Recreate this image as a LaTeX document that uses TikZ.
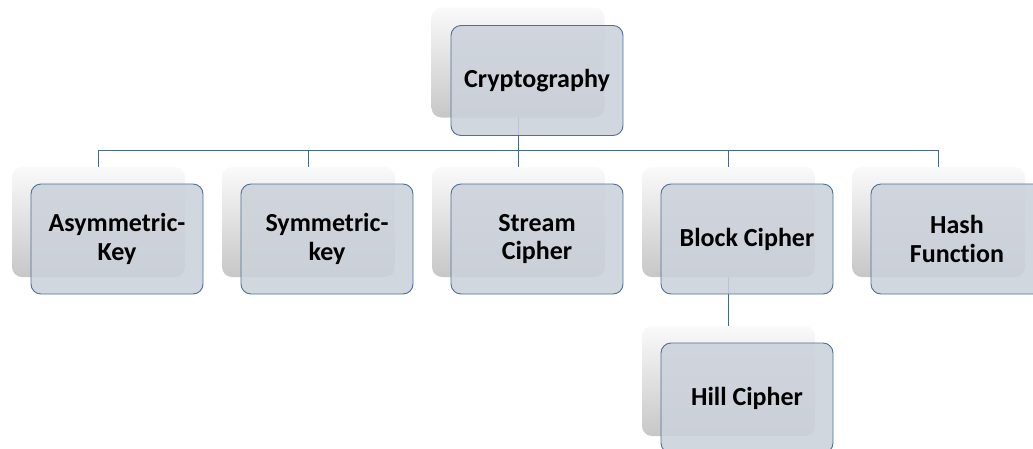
\documentclass[tikz,border=0pt]{standalone}
\usepackage{fontspec}
\setmainfont{Carlito}[Ligatures={NoCommon,NoRare,NoContextual}]
\usetikzlibrary{calc}
\definecolor{frontfill}{RGB}{203,209,219}
\definecolor{frontedge}{RGB}{79,110,152}
\definecolor{linecol}{RGB}{72,102,145}
\tikzset{
  backbox/.style={rounded corners=10pt, minimum width=173pt, minimum height=110pt, inner sep=0pt,
    top color=white!98!black, bottom color=black!22, draw=none},
  frontbox/.style={rounded corners=10pt, minimum width=172pt, minimum height=110pt, inner sep=0pt,
    fill=frontfill, fill opacity=0.88, text opacity=1, draw=frontedge, line width=0.9pt,
    align=center, font=\bfseries\fontsize{26}{28.5}\selectfont},
  conn/.style={draw=linecol, line width=0.9pt}
}
\begin{document}
\begin{tikzpicture}[x=1pt,y=-1pt]
\useasboundingbox (0,0) rectangle (1033,448);
\clip (0,0) rectangle (1033,448);
% back boxes
\node[backbox] (cb) at (518,62.5) {};
\node[backbox] (ab) at (98.5,222) {};
\node[backbox] (sb) at (308.5,222) {};
\node[backbox] (stb) at (518.5,222) {};
\node[backbox] (bb) at (728.5,222) {};
\node[backbox] (hb) at (938.5,222) {};
\node[backbox] (hcb) at (728.5,381) {};
% connectors
\coordinate (bus) at (0,150);
\draw[conn] (cb.south) -- (cb.south |- bus) -| (ab.north);
\draw[conn] (cb.south |- bus) -| (sb.north);
\draw[conn] (cb.south |- bus) -| (stb.north);
\draw[conn] (cb.south |- bus) -| (bb.north);
\draw[conn] (cb.south |- bus) -| (hb.north);
\draw[conn] (bb.south) -- (hcb.north);
% front boxes
\node[frontbox] (c) at (537,80.5) {Cryptography};
\node[frontbox] (a) at (117,239) {Asymmetric-\\Key};
\node[frontbox] (s) at (327,239) {Symmetric-\\key};
\node[frontbox] (st) at (537,239) {Stream\\Cipher};
\node[frontbox] (b) at (747,239) {Block Cipher};
\node[frontbox] (h) at (957,239) {Hash\\Function};
\node[frontbox] (hc) at (747,398) {Hill Cipher};
\end{tikzpicture}
\end{document}
